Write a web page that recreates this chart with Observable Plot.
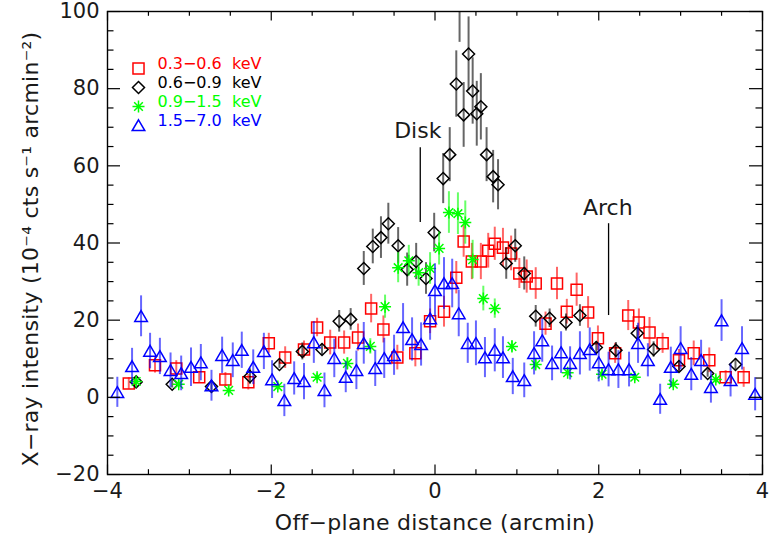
<!DOCTYPE html>
<html><head><meta charset="utf-8">
<script src="https://cdn.jsdelivr.net/npm/d3@7"></script>
<script src="https://cdn.jsdelivr.net/npm/@observablehq/plot@0.6"></script>
<style>
body{margin:0;background:#fff}
#chart svg{display:block}
</style>
</head><body><div id="chart"></div>
<script>
// ---------- data ----------
const bandLabels = ["0.3\u22120.6  keV", "0.6\u22120.9  keV", "0.9\u22121.5  keV", "1.5\u22127.0  keV"];
const bandColors = ["#ff0000", "#000000", "#00ff00", "#0000ff"];

const redX = [-3.74,-3.42,-3.16,-2.88,-2.56,-2.28,-2.03,-1.83,-1.60,-1.44,-1.28,-1.11,-0.94,-0.78,-0.63,-0.46,-0.24,-0.06,0.11,0.26,0.35,0.45,0.56,0.65,0.73,0.83,0.93,1.03,1.12,1.23,1.35,1.49,1.61,1.73,1.87,1.99,2.20,2.36,2.49,2.62,2.78,2.98,3.16,3.35,3.55,3.77];
const redY = [3.6,8.3,7.5,5.2,4.6,3.9,14.0,10.3,12.4,18.1,14.2,14.2,15.5,23.0,17.6,10.3,11.4,19.7,22.2,31.0,40.4,35.2,35.2,38.0,39.8,38.8,37.3,32.1,31.3,29.5,19.1,29.5,22.2,27.9,22.0,15.3,11.4,21.2,19.4,16.8,14.0,9.6,11.4,9.6,5.2,5.2];
const redErr = [1.5,2,2,1.5,1.8,2,2.6,2.8,2.2,2.4,3.2,3,3.5,3.7,3.5,3.2,3.5,3.2,4,4.2,4.1,4.7,4.7,4.5,4.3,5,4.5,3.9,4.3,4.1,3,4.2,3.2,4.3,4.1,3.2,2.6,3.9,3.5,3.9,2.6,2.8,3.2,3.2,1.7,2.6];

const blackX = [-3.65,-3.21,-2.73,-2.26,-1.90,-1.62,-1.38,-1.17,-1.03,-0.87,-0.76,-0.66,-0.57,-0.45,-0.34,-0.23,-0.11,-0.01,0.10,0.18,0.26,0.30,0.35,0.41,0.46,0.51,0.56,0.63,0.71,0.77,0.87,0.98,1.09,1.23,1.40,1.60,1.77,1.97,2.21,2.47,2.67,2.98,3.33,3.67];
const blackY = [4.0,3.4,2.8,5.4,8.5,11.9,12.4,19.7,20.2,33.4,39.1,41.4,45.0,39.3,33.1,35.2,30.8,42.7,56.7,62.9,81.2,103,73.2,89.0,79.4,73.5,75.3,62.9,57.2,55.1,34.7,39.3,32.1,21.0,20.5,19.4,21.2,12.9,12.2,16.6,12.4,8.0,6.2,8.5];
const blackErr = [1,1,1,2,1,2.2,1.5,2.8,2.8,4.4,4.5,5.4,5.3,4.7,4.3,4.7,4.1,5,6.5,7,8.6,11,8.4,9.6,8.6,8.4,8.6,7,6.8,6.5,4.1,4.3,4.3,2.8,2.4,2.2,2.8,1.5,2,2,2,1.5,1,1.5];

const greenX = [-3.65,-3.13,-2.52,-1.92,-1.44,-1.07,-0.79,-0.61,-0.45,-0.32,-0.20,-0.06,0.05,0.17,0.28,0.37,0.46,0.59,0.73,0.94,1.23,1.62,2.04,2.44,2.91,3.43];
const greenY = [4.1,3.4,1.8,2.8,5.2,8.8,13.2,23.5,33.6,35.4,32.3,33.4,38.6,47.9,47.6,45.3,35.7,25.6,23.0,13.2,8.5,6.4,6.0,5.2,3.4,4.6];
const greenErr = [1,1,1,1,1,1.5,2,3,3.9,4,3.5,4.1,4.3,5.4,5.4,5.6,5,3.2,2.5,1.5,1.2,1,1,1,1,1];

const blueX = [-3.88,-3.70,-3.59,-3.48,-3.36,-3.23,-3.10,-2.98,-2.86,-2.73,-2.60,-2.47,-2.36,-2.22,-2.09,-1.99,-1.84,-1.72,-1.60,-1.48,-1.35,-1.23,-1.09,-0.96,-0.87,-0.73,-0.62,-0.50,-0.39,-0.28,-0.17,-0.06,0.00,0.11,0.21,0.29,0.40,0.50,0.61,0.73,0.83,0.95,1.09,1.21,1.31,1.43,1.54,1.65,1.77,1.89,2.00,2.12,2.24,2.37,2.48,2.60,2.75,2.88,3.00,3.13,3.25,3.37,3.50,3.61,3.75,3.91];
const blueY = [1.3,8.0,21.0,12.0,10.6,7.0,6.2,7.8,9.0,3.0,10.9,9.6,12.2,7.8,11.9,4.6,-0.8,4.9,4.1,14.2,1.8,10.1,5.2,7.0,14.0,7.5,10.1,10.9,18.1,15.0,13.7,20.4,27.7,29.5,29.5,21.7,14.0,14.0,10.3,12.2,10.3,5.4,4.4,11.4,14.7,8.8,11.6,8.8,11.4,12.4,9.0,7.2,7.2,7.2,14.0,9.6,-0.5,7.8,12.7,6.0,9.6,2.6,19.9,4.4,12.7,0.8];
const blueErr = [3.9,4.7,5.3,4.6,4.7,4.5,4.5,5,4.7,4,4.7,4.5,4.7,4.5,4.7,4.9,4.2,4.3,4.7,5.4,4.5,5,4,5,5.4,4.7,5.2,5.2,6.2,5.6,5.6,5.6,6.9,6.7,6.3,6,5.2,5.8,5.2,5.6,5.4,4.7,4.5,5.6,5.6,4.5,5.4,4.3,5.6,5.6,5,4.5,4.9,4.5,5.2,4.3,3.9,5.2,5.6,4.3,5.2,4.1,5.4,4.3,5.6,4.3];

const xMajorTicks = [-4, -2, 0, 2, 4];
const xMinorTicks = [-3.5,-3,-2.5,-1.5,-1,-0.5,0.5,1,1.5,2.5,3,3.5];
const yMajorTicks = [-20, 0, 20, 40, 60, 80, 100];
const yMinorTicks = [-15,-10,-5,5,10,15,25,30,35,45,50,55,65,70,75,85,90,95];

const xTitle = "Off\u2212plane distance (arcmin)";
const yTitle = "X\u2212ray intensity (10\u207B\u2074 cts s\u207B\u00B9 arcmin\u207B\u00B2)";

const annLabels = ["Disk", "Arch"];
const annTextX = [-0.21, 2.11];
const annTextY = [69.0, 49.2];
const annLineX = [-0.18, 2.12];
const annLineTop = [64.7, 45.0];
const annLineBottom = [45.3, 21.2];

// ---------- symbols (IDL-like outlines) ----------
const symSquare = {draw(c, s){const r = Math.sqrt(s/Math.PI)*0.92; c.rect(-r,-r,2*r,2*r);}};
const symDiamond = {draw(c, s){const r = Math.sqrt(s/Math.PI); c.moveTo(0,-r); c.lineTo(r,0); c.lineTo(0,r); c.lineTo(-r,0); c.closePath();}};
const symStar = {draw(c, s){const r = Math.sqrt(s/Math.PI)*1.0; const d = r*0.72;
  c.moveTo(-r,0); c.lineTo(r,0); c.moveTo(0,-r); c.lineTo(0,r);
  c.moveTo(-d,-d); c.lineTo(d,d); c.moveTo(-d,d); c.lineTo(d,-d);}};
const symTriangle = {draw(c, s){const r = Math.sqrt(s/Math.PI); c.moveTo(0,-r*0.95); c.lineTo(r*1.05,r*0.85); c.lineTo(-r*1.05,r*0.85); c.closePath();}};

const series = [
  {label: bandLabels[0], color: bandColors[0], symbol: symSquare, xs: redX, ys: redY, es: redErr},
  {label: bandLabels[1], color: bandColors[1], symbol: symDiamond, xs: blackX, ys: blackY, es: blackErr},
  {label: bandLabels[2], color: bandColors[2], symbol: symStar, xs: greenX, ys: greenY, es: greenErr},
  {label: bandLabels[3], color: bandColors[3], symbol: symTriangle, xs: blueX, ys: blueY, es: blueErr}
];

const W = 769, H = 543, mL = 107, mR = 7, mT = 11, mB = 69;
const pw = W - mL - mR, ph = H - mT - mB;
const fmt = d3.format("d");
const txt = "#1a1a1a";

const marks = [];
series.forEach(s => {
  const rows = s.xs.map((x, i) => ({x, y: s.ys[i], e: s.es[i]}));
  marks.push(Plot.ruleX(rows, {x: "x", y1: d => d.y - d.e, y2: d => d.y + d.e, stroke: s.color, strokeWidth: 2, strokeOpacity: 0.6, clip: true}));
  marks.push(Plot.dot(rows, {x: "x", y: "y", symbol: () => s.symbol, r: 6, stroke: s.color, fill: "none", strokeWidth: 1.5, clip: true}));
});

// legend
series.forEach((s, i) => {
  marks.push(Plot.dot([s], {frameAnchor: "top-left", dx: 31, dy: 57 + i*19, symbol: () => s.symbol, r: 6, stroke: s.color, fill: "none", strokeWidth: 1.5}));
  marks.push(Plot.text([s], {frameAnchor: "top-left", dx: 50, dy: 52 + i*19, text: d => d.label, fill: s.color, fontSize: 16, textAnchor: "start", lineAnchor: "middle"}));
});

// annotations
const ann = annLabels.map((t, i) => ({t, tx: annTextX[i], ty: annTextY[i], lx: annLineX[i], y1: annLineBottom[i], y2: annLineTop[i]}));
marks.push(Plot.ruleX(ann, {x: "lx", y1: "y1", y2: "y2", stroke: "#000", strokeWidth: 1.3}));
marks.push(Plot.text(ann, {x: "tx", y: "ty", text: "t", fontSize: 22, fill: txt}));

// inward ticks
marks.push(Plot.ruleX(xMajorTicks, {x: d => d, insetTop: ph - 9.5, stroke: "#000", strokeWidth: 1.2}));
marks.push(Plot.ruleX(xMajorTicks, {x: d => d, insetBottom: ph - 9.5, stroke: "#000", strokeWidth: 1.2}));
marks.push(Plot.ruleX(xMinorTicks, {x: d => d, insetTop: ph - 4.8, stroke: "#000", strokeWidth: 1.2}));
marks.push(Plot.ruleX(xMinorTicks, {x: d => d, insetBottom: ph - 4.8, stroke: "#000", strokeWidth: 1.2}));
marks.push(Plot.ruleY(yMajorTicks, {y: d => d, insetRight: pw - 13, stroke: "#000", strokeWidth: 1.2}));
marks.push(Plot.ruleY(yMajorTicks, {y: d => d, insetLeft: pw - 13, stroke: "#000", strokeWidth: 1.2}));
marks.push(Plot.ruleY(yMinorTicks, {y: d => d, insetRight: pw - 6.5, stroke: "#000", strokeWidth: 1.2}));
marks.push(Plot.ruleY(yMinorTicks, {y: d => d, insetLeft: pw - 6.5, stroke: "#000", strokeWidth: 1.2}));

marks.push(Plot.frame({stroke: "#000", strokeWidth: 1.4}));

marks.push(Plot.axisX({ticks: xMajorTicks, tickSize: 0, tickPadding: 9, tickFormat: fmt, fontSize: 21, fill: txt, label: null}));
marks.push(Plot.axisY({ticks: yMajorTicks, tickSize: 0, tickPadding: 8, tickFormat: fmt, fontSize: 21, fill: txt, label: null}));

// axis titles
marks.push(Plot.text([xTitle], {frameAnchor: "bottom", dy: 48, text: d => d, fontSize: 22, fill: txt, textAnchor: "middle", lineAnchor: "middle"}));
marks.push(Plot.text([yTitle], {frameAnchor: "left", dx: -77, dy: 6, rotate: -90, text: d => d, fontSize: 22, fill: txt, textAnchor: "middle", lineAnchor: "middle"}));

const chart = Plot.plot({
  width: W, height: H,
  marginLeft: mL, marginRight: mR, marginTop: mT, marginBottom: mB,
  x: {domain: [-4, 4]},
  y: {domain: [-20, 100]},
  style: {fontFamily: "'DejaVu Sans', sans-serif", background: "#fff", color: txt},
  marks
});
// slightly wider letter spacing for the titles, like the original vector font
d3.select(chart).selectAll("text").each(function() {
  const t = this.textContent;
  if (t === xTitle) this.style.letterSpacing = "0.3px";
  if (t === yTitle) this.style.letterSpacing = "0.25px";
});
document.getElementById("chart").appendChild(chart);
</script>
</body></html>
